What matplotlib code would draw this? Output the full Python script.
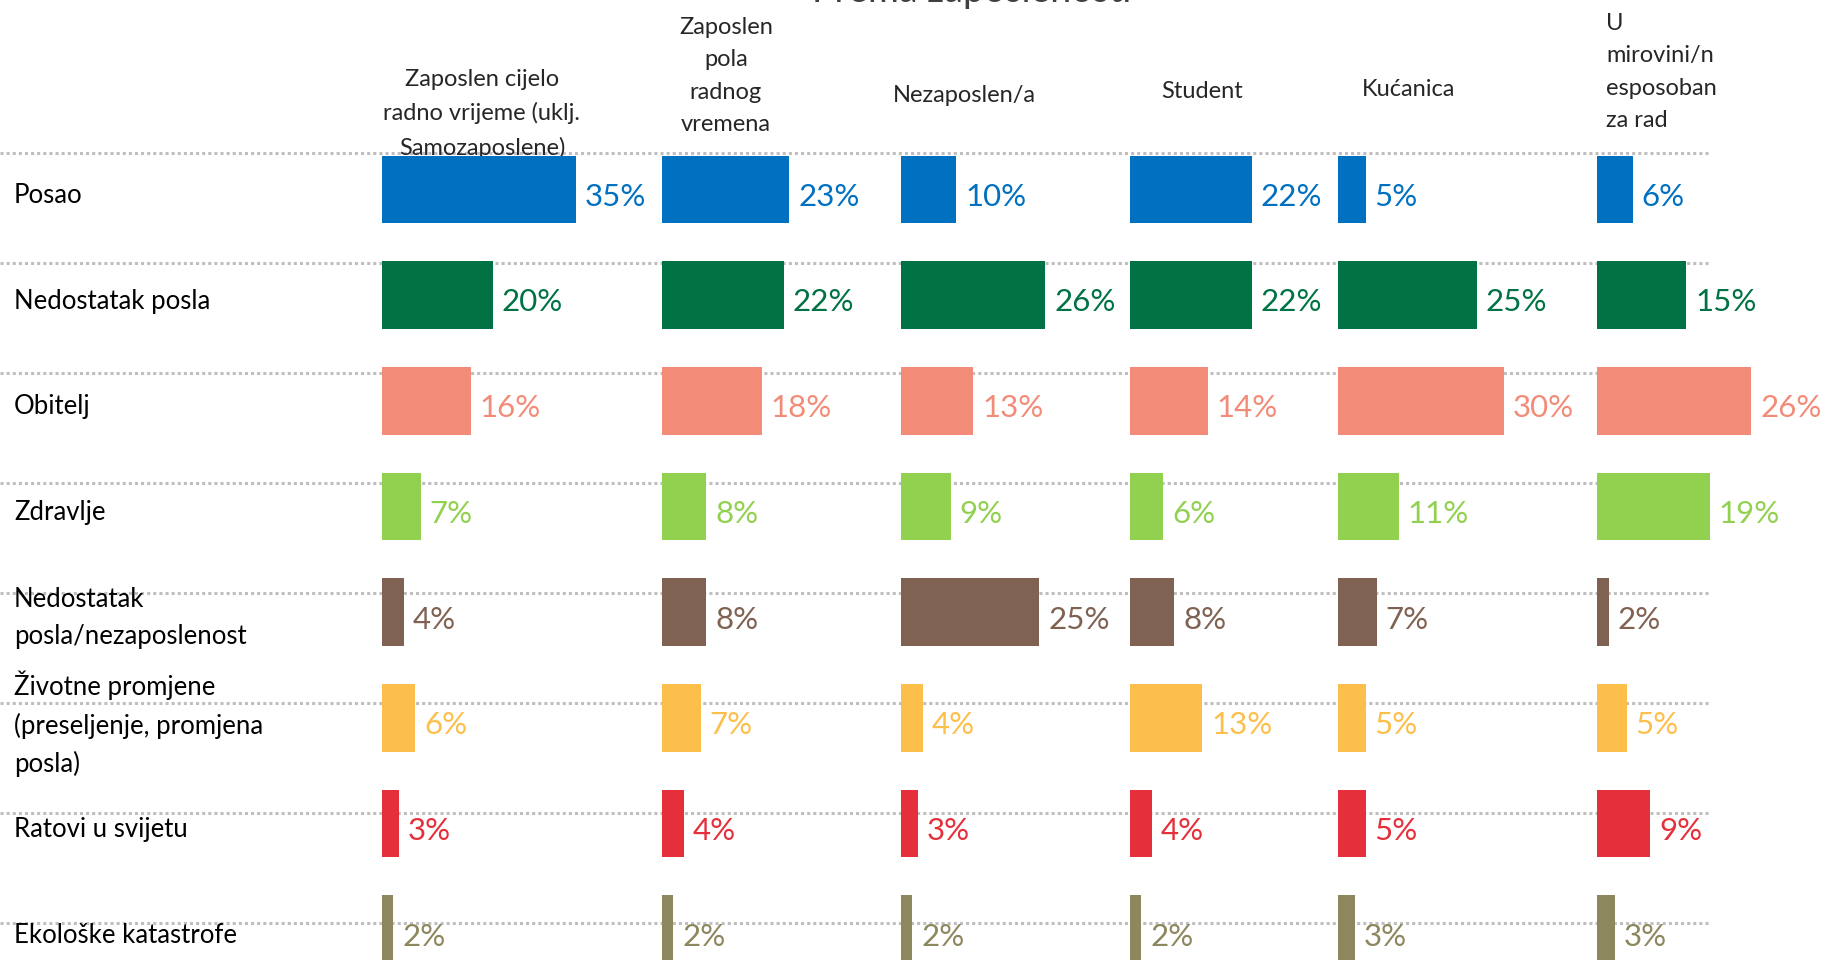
import matplotlib.pyplot as plt

plt.rcParams['font.family'] = ['Lato', 'DejaVu Sans']

W, H = 1833, 960

# razlozi (redovi) i skupine po zaposlenosti (stupci)
razlozi = ['Posao', 'Nedostatak posla', 'Obitelj', 'Zdravlje',
           'Nedostatak\nposla/nezaposlenost',
           'Životne promjene\n(preseljenje, promjena\nposla)',
           'Ratovi u svijetu', 'Ekološke katastrofe']
skupine = ['Zaposlen cijelo\nradno vrijeme (uklj.\nSamozaposlene)',
           'Zaposlen\npola\nradnog\nvremena',
           'Nezaposlen/a', 'Student', 'Kućanica',
           'U\nmirovini/n\nesposoban\nza rad']

posao = [35, 23, 10, 22, 5, 6]
nedostatak_posla = [20, 22, 26, 22, 25, 15]
obitelj = [16, 18, 13, 14, 30, 26]
zdravlje = [7, 8, 9, 6, 11, 19]
nezaposlenost = [4, 8, 25, 8, 7, 2]
zivotne_promjene = [6, 7, 4, 13, 5, 5]
ratovi = [3, 4, 3, 4, 5, 9]
ekologija = [2, 2, 2, 2, 3, 3]

redovi = [posao, nedostatak_posla, obitelj, zdravlje,
          nezaposlenost, zivotne_promjene, ratovi, ekologija]
boje = ['#0070C0', '#007243', '#F28C78', '#92D050',
        '#7F6251', '#FDBF4B', '#E5303B', '#8D875E']

fig = plt.figure(figsize=(W / 100, H / 100), dpi=100)

# pozadina u pikselima: tockaste linije, naslovi, oznake redova
bg = fig.add_axes([0, 0, 1, 1])
bg.set_xlim(0, W)
bg.set_ylim(H, 0)
bg.axis('off')

for y in [153, 263, 373, 483, 593, 703, 813, 923]:
    bg.plot([0, 1710], [y, y], color='#BFBFBF', lw=2.2, ls=(0, (1, 1)))

bg.text(972, -9, 'Prema zaposlenosti', fontsize=27, ha='center', va='center',
        color='#404040')

y0, dy = 189.4, 105.7
for i, r in enumerate(razlozi):
    bg.text(14, y0 + i * dy + 6, r, fontsize=18.5, ha='left', va='center',
            linespacing=1.6, color='black')

zaglavlja = [(482, 114, 'center'), (726, 76, 'center'), (964, 95, 'center'),
             (1202, 92, 'center'), (1409, 90, 'center'), (1606, 72, 'left')]
for (x, y, ha), s in zip(zaglavlja, skupine):
    bg.text(x, y, s, fontsize=17, ha=ha, va='center', linespacing=1.68,
            color='#262626')

# po jedan stupac grafikona za svaku skupinu
lijevo = [382, 662, 901, 1130, 1338, 1597]
mjerilo = [5.54, 5.54, 5.54, 5.54, 5.54, 5.94]
ylim = ((H - y0) / dy, -y0 / dy)

for j in range(len(skupine)):
    sirina = 40 * mjerilo[j]
    ax = fig.add_axes([lijevo[j] / W, 0, sirina / W, 1])
    ax.patch.set_alpha(0)
    ax.axis('off')
    ax.set_xlim(0, 40)
    ax.set_ylim(*ylim)
    vrij = [red[j] for red in redovi]
    ax.barh(range(len(vrij)), vrij, height=0.64, color=boje)
    razmak = 9 / mjerilo[j]
    for i, v in enumerate(vrij):
        ax.text(v + razmak, i + 0.07, f'{v}%', fontsize=22.5, color=boje[i],
                ha='left', va='center')

fig.savefig('out.png', dpi=100)
